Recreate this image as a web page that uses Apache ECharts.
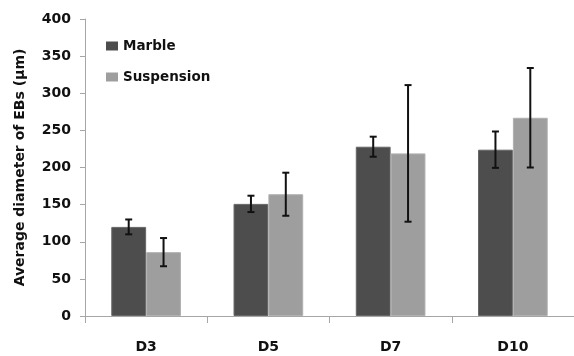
<!DOCTYPE html>
<html>
<head>
<meta charset="utf-8">
<script src="https://cdn.jsdelivr.net/npm/echarts@6/dist/echarts.min.js"></script>
<style>html,body{margin:0;padding:0;background:#fff}#c{width:574px;height:356px}</style>
</head>
<body>
<div id="c"></div>
<script>
const categories = ['D3', 'D5', 'D7', 'D10'];
const marble = [120, 151, 228, 224];
const marbleErr = [10, 11, 13.5, 24.5];
const suspension = [86, 164, 219, 267];
const suspensionErr = [19, 29, 92, 67];
const yTicks = [0, 50, 100, 150, 200, 250, 300, 350, 400];

const BAR_FRAC = 0.285;
const font = 'DejaVu Sans';
const txt = '#111';

function errSeries(name, vals, errs, side) {
  return {
    type: 'custom',
    name: name + ' err',
    z: 10,
    silent: true,
    data: vals.map((v, i) => [i, v - errs[i], v + errs[i]]),
    renderItem: function (params, api) {
      const i = api.value(0);
      const catW = api.size([1, 0])[0];
      const off = side * catW * BAR_FRAC / 2;
      const lo = api.coord([i, api.value(1)]);
      const hi = api.coord([i, api.value(2)]);
      const x = lo[0] + off;
      const cap = 3.5;
      const st = { stroke: '#111', lineWidth: 2 };
      return {
        type: 'group',
        children: [
          { type: 'line', shape: { x1: x, y1: lo[1], x2: x, y2: hi[1] }, style: st },
          { type: 'line', shape: { x1: x - cap, y1: lo[1], x2: x + cap, y2: lo[1] }, style: st },
          { type: 'line', shape: { x1: x - cap, y1: hi[1], x2: x + cap, y2: hi[1] }, style: st }
        ]
      };
    }
  };
}

const chart = echarts.init(document.getElementById('c'));
chart.setOption({
  animation: false,
  backgroundColor: '#fff',
  grid: { left: 85, top: 19, width: 489, bottom: 40 },
  legend: {
    orient: 'vertical',
    left: 101,
    top: 34,
    itemWidth: 12,
    itemHeight: 9,
    itemGap: 17,
    icon: 'rect',
    data: ['Marble', 'Suspension'],
    itemStyle: { borderWidth: 0 },
    textStyle: { fontFamily: font, fontWeight: 'bold', fontSize: 13.5, color: txt }
  },
  xAxis: {
    type: 'category',
    data: categories,
    axisLine: { lineStyle: { color: '#a6a6a6', width: 1 } },
    axisTick: { show: true, length: 7, lineStyle: { color: '#a6a6a6' } },
    axisLabel: { margin: 24, fontFamily: font, fontWeight: 'bold', fontSize: 14, color: txt }
  },
  yAxis: {
    type: 'value',
    min: yTicks[0],
    max: yTicks[yTicks.length - 1],
    interval: yTicks[1] - yTicks[0],
    name: 'Average diameter of EBs (μm)',
    nameLocation: 'middle',
    nameGap: 58,
    nameTextStyle: { fontFamily: font, fontWeight: 'bold', fontSize: 14, color: txt },
    splitLine: { show: false },
    axisLine: { show: true, lineStyle: { color: '#a6a6a6', width: 1 } },
    axisTick: { show: true, length: 5, lineStyle: { color: '#a6a6a6' } },
    axisLabel: { margin: 14, fontFamily: font, fontWeight: 'bold', fontSize: 14, color: txt }
  },
  series: [
    {
      name: 'Marble', type: 'bar', data: marble,
      barWidth: (BAR_FRAC * 100) + '%', barGap: '0%',
      itemStyle: { color: '#4d4d4d', borderColor: '#666', borderWidth: 1 }
    },
    {
      name: 'Suspension', type: 'bar', data: suspension,
      barWidth: (BAR_FRAC * 100) + '%', barGap: '0%',
      itemStyle: { color: '#9e9e9e', borderColor: '#b0b0b0', borderWidth: 1 }
    },
    errSeries('Marble', marble, marbleErr, -1),
    errSeries('Suspension', suspension, suspensionErr, 1)
  ]
});
</script>
</body>
</html>
